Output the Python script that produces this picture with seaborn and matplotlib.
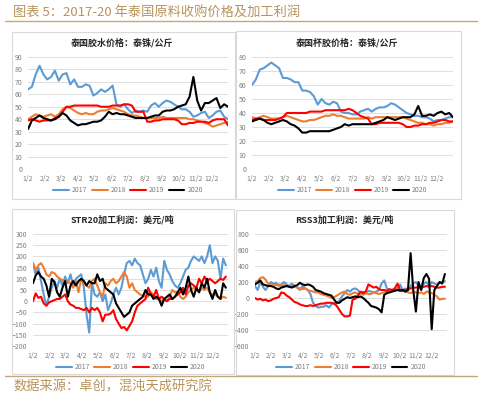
import pandas as pd
import matplotlib
matplotlib.use("Agg")
import matplotlib.pyplot as plt
from matplotlib.patches import Rectangle
from matplotlib.lines import Line2D
import seaborn as sns

years = ["2017", "2018", "2019", "2020"]
colors = ["#5B9BD5", "#ED7D31", "#FF0000", "#000000"]
month_labels = [f"{m}/2" for m in range(1, 13)]

# 泰国胶水价格 (weekly from 1/2)
latex_2017 = [64, 66, 76, 83, 76, 72, 74, 79, 71, 76, 77, 68, 72, 66, 66, 68, 67, 59, 61, 64,
              62, 64, 67, 52, 50, 52, 48, 45, 47, 46, 47, 46, 51, 53, 50, 53, 55, 54, 52, 50,
              48, 48, 46, 42, 43, 45, 46, 41, 43, 46, 47, 42, 40]
latex_2018 = [40, 42, 44, 43, 42, 43, 44, 42, 44, 48, 50, 49, 47, 45, 44, 45, 44, 44, 46, 47,
              47, 48, 49, 48, 47, 46, 44, 43, 43, 42, 41, 41, 41, 41, 41, 42, 41, 41, 41, 41,
              41, 41, 40, 40, 39, 38, 37, 36, 34, 35, 36, 37, 38]
latex_2019 = [39, 40, 39, 38, 39, 39, 39, 41, 42, 46, 50, 50, 51, 51, 51, 51, 51, 51, 51, 50,
              50, 50, 51, 51, 51, 52, 52, 51, 46, 46, 46, 38, 38, 39, 39, 40, 40, 40, 40, 39,
              36, 36, 37, 37, 38, 38, 38, 37, 39, 40, 40, 40, 35]
latex_2020 = [32, 39, 41, 43, 41, 40, 39, 40, 42, 45, 43, 39, 37, 35, 36, 36, 37, 38, 38, 39,
              42, 46, 44, 45, 44, 44, 43, 42, 41, 41, 41, 41, 42, 43, 43, 46, 47, 47, 48, 50,
              51, 52, 58, 74, 55, 47, 53, 53, 55, 57, 49, 52, 50]

# 泰国杯胶价格 (weekly from 1/2)
cup_2017 = [60, 64, 71, 72, 74, 76, 74, 72, 65, 65, 64, 62, 62, 56, 56, 55, 52, 46, 50, 47,
            46, 48, 47, 41, 40, 40, 39, 39, 41, 42, 43, 41, 43, 44, 44, 45, 47, 46, 44, 42,
            40, 39, 38, 38, 37, 37, 36, 34, 35, 35, 36, 37, 37]
cup_2018 = [37, 36, 37, 38, 37, 36, 36, 36, 37, 38, 37, 36, 35, 34, 34, 35, 35, 36, 37, 38,
            38, 39, 38, 38, 37, 36, 36, 36, 36, 36, 37, 36, 37, 37, 37, 37, 37, 37, 37, 37,
            36, 35, 34, 33, 33, 32, 32, 31, 32, 32, 33, 33, 34]
cup_2019 = [35, 36, 36, 35, 35, 35, 35, 36, 37, 40, 40, 40, 40, 40, 40, 41, 41, 41, 41, 42,
            42, 42, 42, 42, 42, 43, 42, 40, 38, 37, 36, 32, 32, 33, 33, 33, 33, 33, 33, 32,
            30, 30, 31, 31, 32, 32, 33, 33, 34, 35, 35, 34, 34]
cup_2020 = [34, 35, 36, 35, 33, 32, 33, 34, 35, 34, 32, 31, 29, 26, 26, 27, 27, 27, 27, 27,
            27, 28, 29, 30, 32, 31, 32, 32, 32, 32, 32, 32, 33, 34, 35, 37, 36, 35, 36, 37,
            37, 37, 39, 45, 38, 38, 39, 38, 40, 41, 39, 40, 37]

# STR20加工利润 (every 5 days from 1/2)
str_2017 = [170, 120, 150, 90, 30, -20, 20, 60, 90, 60, 100, 70, 110, 80, 120, 70, 100, 110, 120, 60,
            -60, -140, 80, 30, 20, 40, 0, 30, -40, -10, 30, 60, 30, 60, 120, 170, 180, 160, 190, 170,
            160, 120, 80, 100, 140, 110, 150, 90, 60, 180, 140, 120, 90, 70, 60, 80, 110, 140, 150, 180,
            200, 190, 180, 200, 170, 200, 250, 170, 200, 180, 100, 190, 160]
str_2018 = [170, 140, 160, 170, 150, 120, 110, 130, 125, 110, 100, 95, 80, 90, 80, 60, 90, 40, 100, 80,
            70, 60, 90, 100, 70, 40, 20, 80, 70, 90, 100, 80, 90, 110, 130, 110, 60, 80, 50, 40,
            30, 25, 20, 20, 40, 30, 10, 10, 0, 10, 0, 20, 50, 40, 40, 20, 10, 20, 40, 50,
            60, 50, 40, 60, 50, 60, 40, 30, 30, 20, 10, 20, 15]
str_2019 = [0, 35, 15, 20, -10, -20, -5, 0, 5, 10, 10, 20, 30, 0, -15, -20, -30, -30, -35, -40,
            -30, -50, -30, -40, -30, -50, -90, -60, -60, -55, -40, -80, -100, -120, -115, -130, -110, -90, -50, -20,
            -10, 0, 10, 60, 30, 20, 50, 10, 20, 10, 0, 10, 10, 20, 30, 40, 60, 30, 70, 80,
            70, 60, 100, 80, 110, 90, 100, 90, 80, 90, 100, 95, 110]
str_2020 = [80, 115, 130, 110, 100, 70, 20, 100, 85, 40, 20, 60, 90, 20, 70, 90, 70, 90, 100, 90,
            70, 90, 80, 80, 120, 90, 100, 60, 50, 40, 30, -10, -30, -50, -70, -60, -50, -20, -10, 0,
            10, 20, 50, 30, 30, 10, 20, 10, -20, 10, 20, 30, 10, 20, 40, 60, 30, 60, 110, 50,
            20, 60, 40, 80, 60, 100, 40, 10, 50, 20, 10, 80, 60]

# RSS3加工利润 (every 5 days from 1/2)
rss_2017 = [150, 100, 200, 140, 100, 150, 200, 180, 190, 150, 170, 200, 170, 150, 180, 150, 130, 100, 150, 120,
            100, 50, -60, -100, -120, -110, -110, -90, -120, -80, -60, -70, -30, 20, 60, 100, 80, 110, 120, 100,
            60, 80, 60, 90, 80, 70, 80, 100, 180, 220, 120, 100, 90, 100, 120, 170, 100, 120, 90, 150,
            180, 200, 150, 100, 180, 200, 150, 200, 180, 170, 190, 200, 210]
rss_2018 = [200, 210, 250, 260, 230, 180, 180, 170, 160, 170, 150, 160, 150, 140, 150, 140, 130, 120, 110, 120,
            100, 90, 80, 70, 70, 50, 40, 30, 20, 0, 10, 30, 50, 70, 80, 50, 40, 60, 70, 50,
            60, 40, 60, 50, 50, 70, 60, 50, 60, 70, 80, 90, 100, 90, 110, 100, 90, 80, 70, 60,
            80, 70, 60, 70, 50, 80, 70, 60, 40, 20, -20, -10, -10]
rss_2019 = [0, -20, -10, -30, -20, -40, -30, -10, 0, 10, 70, 60, 30, 10, -20, -50, -60, -80, -90, -100,
            -100, -90, -100, -90, -80, -70, -70, -60, -60, -60, -70, -100, -150, -200, -230, -230, -220, -20, -10, 30,
            80, 60, 80, 170, 150, 130, 140, 110, 100, 100, 90, 110, 100, 120, 180, 100, 90, 100, 110, 120,
            130, 130, 140, 130, 140, 150, 140, 150, 140, 130, 130, 140, 140]
rss_2020 = [170, 190, 220, 170, 160, 150, 150, 140, 120, 110, 130, 140, 150, 140, 130, 150, 160, 190, 170, 160,
            170, 160, 140, 100, 90, 80, 60, 50, 40, 30, -20, -60, -60, -30, -10, 10, 0, 10, 20, 10,
            20, 0, -30, -60, -100, -110, -120, -140, -180, 40, 60, 70, 80, 90, 100, 90, 100, 80, 100, 560,
            100, -170, 200, 100, 250, 300, 240, -390, 100, 150, 200, 180, 300]

panels = [
    ("泰国胶水价格：泰铢/公斤", [latex_2017, latex_2018, latex_2019, latex_2020], 7, (0, 90), 10),
    ("泰国杯胶价格：泰铢/公斤", [cup_2017, cup_2018, cup_2019, cup_2020], 7, (0, 80), 10),
    ("STR20加工利润：美元/吨", [str_2017, str_2018, str_2019, str_2020], 5, (-200, 300), 50),
    ("RSS3加工利润：美元/吨", [rss_2017, rss_2018, rss_2019, rss_2020], 5, (-600, 800), 200),
]

# axes rectangles in pixels: left, top, right, bottom
axes_px = [(28, 57, 228, 169), (252, 57, 453, 169), (33, 234, 228, 346), (255, 234, 447, 346)]
frames_px = [(12, 32, 235, 199), (236, 31, 461, 199), (12, 209, 234, 374), (236, 210, 454, 375)]
title_px = [(122, 43), (347, 43), (122, 220), (344, 220)]

W, H = 483, 397

sns.set_theme(style="white")
plt.rcParams['font.family'] = ['Noto Sans CJK SC', 'DejaVu Sans']

fig = plt.figure(figsize=(W / 100, H / 100), dpi=100)

gold = "#B8935A"
fig.text(13 / W, 1 - 12 / H, "图表 5：2017-20 年泰国原料收购价格及加工利润", color=gold,
         fontsize=9.5, va="center", ha="left")
fig.add_artist(Line2D([5 / W, 477 / W], [1 - 21 / H, 1 - 21 / H], color="#C4A77A", lw=1))
fig.add_artist(Line2D([5 / W, 477 / W], [1 - 376 / H, 1 - 376 / H], color="#C4A77A", lw=1))
fig.text(13 / W, 1 - 387 / H, "数据来源：卓创，混沌天成研究院", color=gold,
         fontsize=9.5, va="center", ha="left")

tick_dates = [pd.Timestamp(2020, m, 2) for m in range(1, 13)]
palette = dict(zip(years, colors))

for i, (title, series, step, ylim, ystep) in enumerate(panels):
    l, t, r, b = frames_px[i]
    fig.add_artist(Rectangle((l / W, 1 - b / H), (r - l) / W, (b - t) / H, fill=False,
                             edgecolor="#D9D9D9", lw=0.8, transform=fig.transFigure))
    l, t, r, b = axes_px[i]
    ax = fig.add_axes([l / W, 1 - b / H, (r - l) / W, (b - t) / H])

    dates = pd.date_range("2020-01-02", periods=len(series[0]), freq=f"{step}D")
    df = pd.concat([pd.DataFrame({"date": dates, "value": s, "year": y})
                    for s, y in zip(series, years)], ignore_index=True)
    sns.lineplot(data=df, x="date", y="value", hue="year", palette=palette,
                 linewidth=1.5, ax=ax)

    ax.set_xlim(pd.Timestamp(2020, 1, 2), pd.Timestamp(2020, 12, 31))
    ax.set_ylim(*ylim)
    ax.set_yticks(range(ylim[0], ylim[1] + 1, ystep))
    ax.set_xticks(tick_dates)
    ax.set_xticklabels(month_labels)
    ax.set_xlabel("")
    ax.set_ylabel("")
    ax.grid(axis="y", color="#D9D9D9", lw=0.6)
    ax.set_axisbelow(True)
    for sp in ax.spines.values():
        sp.set_visible(False)
    ax.tick_params(length=0, labelsize=5, labelcolor="#7F7F7F", pad=4)

    sns.move_legend(ax, "center", bbox_to_anchor=(0.5, -0.19), ncol=4, frameon=False,
                    title=None, fontsize=5, handlelength=2.3, handletextpad=0.4,
                    columnspacing=0.6, labelcolor="#7F7F7F")

    tx, ty = title_px[i]
    fig.text(tx / W, 1 - ty / H, title, fontsize=6.5, fontweight="bold", color="#262626",
             ha="center", va="center")

fig.savefig("out.png", dpi=100)
